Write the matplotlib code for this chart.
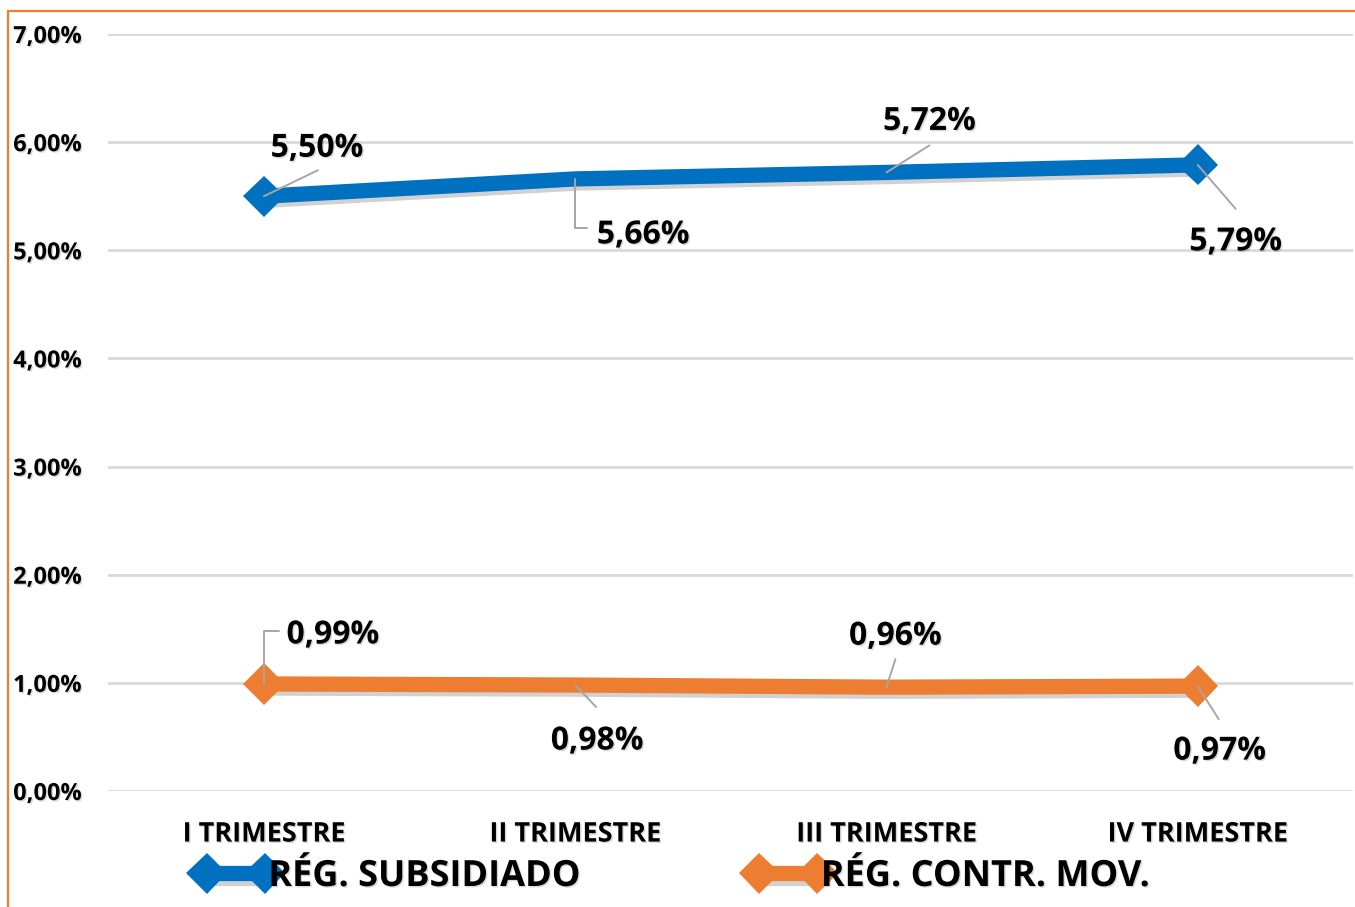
import matplotlib
matplotlib.use('Agg')
import matplotlib.pyplot as plt
import matplotlib.patheffects as pe
from matplotlib.patches import Rectangle
from matplotlib.ticker import FuncFormatter

categories = ['I TRIMESTRE', 'II TRIMESTRE', 'III TRIMESTRE', 'IV TRIMESTRE']
subsidiado = [5.50, 5.66, 5.72, 5.79]
contributivo = [0.99, 0.98, 0.96, 0.97]
series_names = ['RÉG. SUBSIDIADO', 'RÉG. CONTR. MOV.']

# label placement (pixels from point): text centre, leader end, elbow?
sub_text = [(53, 48), (68, -56), (43, 51), (38, -77)]
sub_lead = [(54, 26), (12, -49), (43, 27), (38, -44)]
sub_elbow = [False, True, False, False]
con_text = [(69, 49), (22, -56), (9, 51), (22, -65)]
con_lead = [(15, 53), (21, -22), (9, 28), (21, -33)]
con_elbow = [True, False, False, False]

BLUE = '#0070C0'
ORANGE = '#ED7D31'
plt.rcParams['font.family'] = ['Open Sans', 'DejaVu Sans']
plt.rcParams['font.weight'] = 'bold'

fig = plt.figure(figsize=(13.55, 9.07), dpi=100)
ax = fig.add_axes([108.3 / 1355, 1 - 791 / 907, 1245 / 1355, (791 - 34) / 907])

shadow = [pe.SimpleLineShadow(offset=(1.5, -3), shadow_color='black', alpha=0.18), pe.Normal()]
txt_shadow = [pe.SimplePatchShadow(offset=(1, -1), shadow_rgbFace='black', alpha=0.15), pe.Normal()]

x = list(range(len(categories)))
for vals, col, name in [(subsidiado, BLUE, series_names[0]), (contributivo, ORANGE, series_names[1])]:
    ax.plot(x, vals, color=col, lw=11, marker='D', ms=21, mew=0, label=name,
            markevery=[0, len(vals) - 1], solid_joinstyle='miter',
            path_effects=shadow, zorder=3)

def labels(vals, texts, leads, elbows):
    for i, v in enumerate(vals):
        lx, ly = leads[i]
        cs = 'angle,angleA=0,angleB=90,rad=0' if elbows[i] else 'arc3'
        ax.annotate('', xy=(i, v), xytext=(lx, ly), textcoords='offset pixels',
                    arrowprops=dict(arrowstyle='-', color='#A6A6A6', lw=1.4,
                                    shrinkA=0, shrinkB=0, connectionstyle=cs), zorder=4)
        tx, ty = texts[i]
        ax.annotate(('%.2f%%' % v).replace('.', ','), xy=(i, v), xytext=(tx, ty),
                    textcoords='offset pixels', ha='center', va='center',
                    fontsize=23, fontweight='bold', color='black',
                    path_effects=txt_shadow, zorder=5)

labels(subsidiado, sub_text, sub_lead, sub_elbow)
labels(contributivo, con_text, con_lead, con_elbow)

ax.set_xlim(-0.5, 3.5)
ax.set_ylim(0, 7)
ax.set_yticks(range(0, 8))
ax.yaxis.set_major_formatter(FuncFormatter(lambda v, p: ('%.2f%%' % v).replace('.', ',')))
ax.set_xticks(x)
ax.set_xticklabels(categories)
ax.tick_params(axis='y', length=0, pad=19, labelsize=17)
ax.tick_params(axis='x', length=0, pad=22, labelsize=19.5)
for lab in ax.get_xticklabels() + ax.get_yticklabels():
    lab.set_fontweight('bold')
    lab.set_path_effects(txt_shadow)
ax.grid(axis='y', color='#D9D9D9', lw=2)
ax.set_axisbelow(True)
for s in ax.spines.values():
    s.set_visible(False)

leg = fig.legend(loc='center left', bbox_to_anchor=(196 / 1355, 1 - 877 / 907), ncol=2,
                 frameon=False, numpoints=2, handlelength=2.2, handletextpad=-0.2,
                 columnspacing=4.65, borderpad=0, borderaxespad=0,
                 prop=dict(size=26, weight='bold'))
for t in leg.get_texts():
    t.set_path_effects(txt_shadow)

# orange frame of the original chart area
fig.add_artist(Rectangle((8 / 1355, -0.05), 1.0, 1.05 - 11 / 907, transform=fig.transFigure,
                         fill=False, edgecolor=ORANGE, lw=1.6))

fig.savefig('out.png', dpi=100)
